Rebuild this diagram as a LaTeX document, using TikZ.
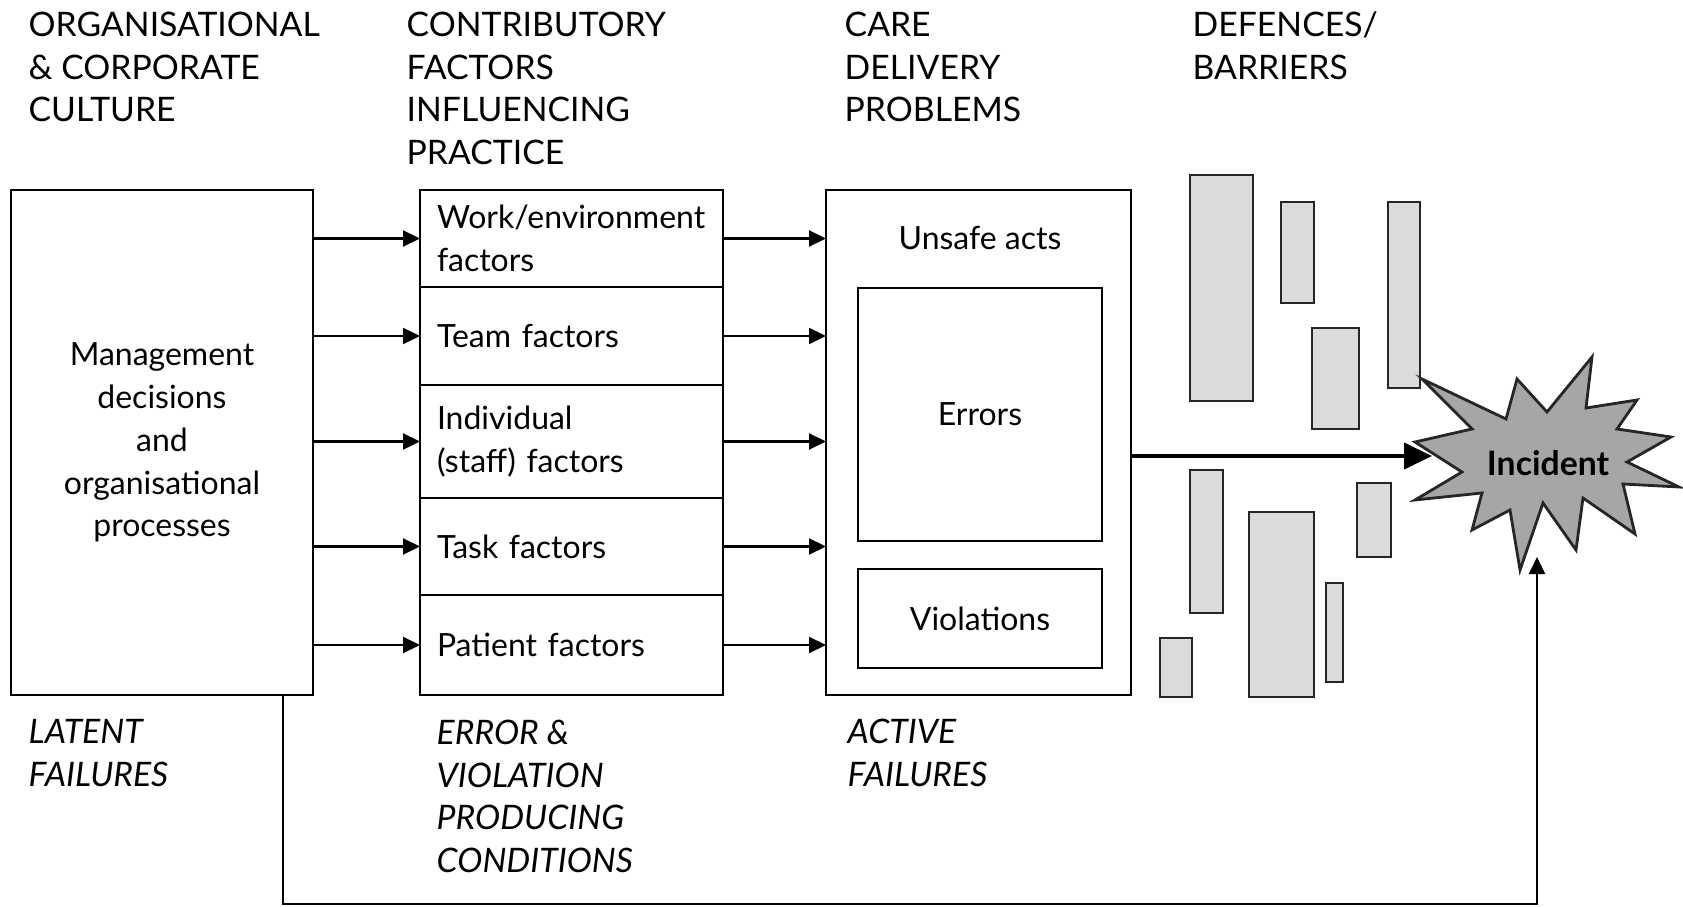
\documentclass[tikz,border=0pt]{standalone}
\usepackage{fontspec}
\setmainfont{Lato}
\usetikzlibrary{
  arrows.meta,
  positioning
}
\newcommand{\diagfont}{\fontsize{9.1}{12.2}\selectfont}
\newcommand{\capsfont}{\fontsize{9.6}{12.2}\selectfont}
\tikzset{
  every node/.style={font=\diagfont},
  box/.style={draw, line width=0.7pt, inner sep=0pt, outer sep=0pt},
  cell/.style={box, minimum width=3.03cm, text width=2.69cm, inner xsep=0.17cm,
    align=left},
  barrier/.style={draw=black!85, fill=black!14, line width=0.8pt},
  burst/.style={draw=black!85, fill=black!35, line width=0.8pt},
  flow/.style={-{Triangle[length=1.7mm, width=1.6mm]}, line width=0.6pt},
  mainflow/.style={-{Triangle[length=2.8mm, width=2.6mm]}, line width=1.2pt},
  head/.style={anchor=north west, align=left, inner sep=0pt, font=\capsfont},
  foot/.style={head, font=\capsfont\itshape},
}

\begin{document}
\begin{tikzpicture}
\useasboundingbox (0,0) rectangle (16.83,9.06);

% --- column headings ---
\node[head] (hOrg) at (0.28,8.95) {ORGANISATIONAL\\\& CORPORATE\\CULTURE};
\node[head] (hContrib) at (4.06,8.95) {CONTRIBUTORY\\FACTORS\\INFLUENCING\\PRACTICE};
\node[head] (hCare) at (8.44,8.95) {CARE\\DELIVERY\\PROBLEMS};
\node[head] (hDef) at (11.92,8.95) {DEFENCES/\\BARRIERS};

% --- organisation ---
\node[box, minimum width=3.02cm, minimum height=5.05cm, align=center] (mgmt)
  at (1.62,4.635) {Management\\decisions\\and\\organisational\\processes};

% --- contributory factors, stacked cells ---
\node[cell, minimum height=0.97cm, anchor=north west] (work) at (4.20,7.16)
  {Work/environment\\factors};
\node[cell, minimum height=0.98cm, below=0pt of work] (team) {Team factors};
\node[cell, minimum height=1.13cm, below=0pt of team] (indiv)
  {Individual\\(staff) factors};
\node[cell, minimum height=0.97cm, below=0pt of indiv] (task) {Task factors};
\node[cell, minimum height=1.00cm, below=0pt of task] (patient) {Patient factors};

% --- care delivery problems ---
\node[box, minimum width=3.05cm, minimum height=5.05cm] (care) at (9.785,4.635) {};
\node (unsafe) at (9.80,6.68) {Unsafe acts};
\node[box, minimum width=2.44cm, minimum height=2.53cm] (errors) at (9.80,4.915) {Errors};
\node[box, minimum width=2.44cm, minimum height=0.99cm] (viol) at (9.80,2.875) {Violations};

% --- defences / barriers ---
\foreach \xa/\ya/\xb/\yb in {11.90/5.05/12.53/7.31, 12.81/6.03/13.14/7.04,
    13.88/5.18/14.20/7.04, 13.12/4.77/13.59/5.78, 11.90/2.93/12.23/4.36,
    12.49/2.09/13.14/3.94, 13.57/3.49/13.91/4.23, 13.26/2.24/13.43/3.23,
    11.60/2.09/11.92/2.68}
  \draw[barrier] (\xa,\ya) rectangle (\xb,\yb);

% --- incident burst ---
\draw[burst] (14.22,5.27) -- (15.06,4.87) -- (15.17,5.27) -- (15.47,4.94)
  -- (15.92,5.49) -- (15.86,4.98) -- (16.37,5.06) -- (16.17,4.77)
  -- (16.71,4.69) -- (16.27,4.44) -- (16.79,4.19) -- (16.23,4.22)
  -- (16.35,3.72) -- (15.83,4.08) -- (15.76,3.56) -- (15.43,4.03)
  -- (15.20,3.36) -- (15.10,3.96) -- (14.72,3.76) -- (14.82,4.13)
  -- (14.15,4.06) -- (14.62,4.34) -- (14.15,4.64) -- (14.72,4.77) -- cycle;
\node[font=\capsfont\bfseries] (incident) at (15.48,4.43) {Incident};

\coordinate (hit) at (14.32,4.50);
\coordinate (up) at (15.37,3.49);
\coordinate (tap) at (2.83,0.02);

% --- connectors ---
\foreach \c in {work,team,indiv,task,patient}{
  \draw[flow] (mgmt.east |- \c.west) -- (\c.west);
  \draw[flow] (\c.east) -- (care.west |- \c.east);
}
\draw[mainflow] (care.east |- hit) -- (hit);
\draw[flow] (mgmt.south -| tap) -- (tap) -| (up);

% --- failure types ---
\node[foot] (fLatent) at (0.28,1.87) {LATENT\\FAILURES};
\node[foot] (fCond) at (4.36,1.87) {ERROR \&\\VIOLATION\\PRODUCING\\CONDITIONS};
\node[foot] (fActive) at (8.47,1.88) {ACTIVE\\FAILURES};
\end{tikzpicture}
\end{document}
